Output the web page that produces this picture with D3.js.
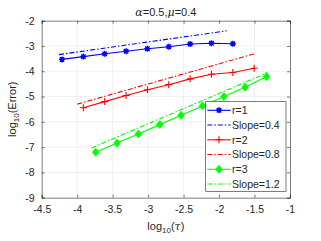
<!DOCTYPE html>
<html>
<head>
<meta charset="utf-8">
<script src="https://cdn.jsdelivr.net/npm/d3@7"></script>
<style>
  body { margin: 0; background: #fff; }
  text { font-family: "Liberation Sans", Arial, sans-serif; fill: #262626; }
</style>
</head>
<body>
<div id="chart"></div>
<script>
var width = 321, height = 241;
var margin = {left: 41.7, top: 20.7, right: 31, bottom: 43.3};

// data
var x1 = [-4.214, -3.913, -3.612, -3.311, -3.010, -2.709, -2.408, -2.107, -1.806];
var y1 = [-3.53, -3.42, -3.31, -3.21, -3.11, -3.03, -2.92, -2.89, -2.91];
var x2 = [-3.913, -3.612, -3.311, -3.010, -2.709, -2.408, -2.107, -1.806, -1.505];
var y2 = [-5.44, -5.20, -4.96, -4.73, -4.53, -4.30, -4.12, -4.05, -3.88];
var x3 = [-3.739, -3.438, -3.137, -2.836, -2.535, -2.234, -1.933, -1.632, -1.331];
var y3 = [-7.20, -6.84, -6.48, -6.11, -5.74, -5.37, -5.00, -4.63, -4.21];
var slopeX1 = [-4.256, -1.892], slopeY1 = [-3.34, -2.40];
var slopeX2 = [-3.998, -1.493], slopeY2 = [-5.30, -3.30];
var slopeX3 = [-3.795, -1.319], slopeY3 = [-7.03, -4.06];
var xTicks = [-4.5, -4, -3.5, -3, -2.5, -2, -1.5, -1];
var yTicks = [-9, -8, -7, -6, -5, -4, -3, -2];
var legendLabels = ["r=1", "Slope=0.4", "r=2", "Slope=0.8", "r=3", "Slope=1.2"];

var w = width - margin.left - margin.right,
    h = height - margin.top - margin.bottom;

var x = d3.scaleLinear().domain([-4.5, -1]).range([0, w]);
var y = d3.scaleLinear().domain([-9, -2]).range([h, 0]);

var svg = d3.select("#chart").append("svg")
    .attr("width", width)
    .attr("height", height);

var g = svg.append("g")
    .attr("transform", "translate(" + margin.left + "," + margin.top + ")");

g.append("rect").attr("width", w).attr("height", h).attr("fill", "#fff");

// grid
g.append("g").selectAll("line").data(xTicks.slice(1, -1)).enter().append("line")
    .attr("x1", function(d) { return x(d); }).attr("x2", function(d) { return x(d); })
    .attr("y1", 0).attr("y2", h)
    .attr("stroke", "#e6e6e6").attr("stroke-width", 0.6);
g.append("g").selectAll("line").data(yTicks.slice(1, -1)).enter().append("line")
    .attr("y1", function(d) { return y(d); }).attr("y2", function(d) { return y(d); })
    .attr("x1", 0).attr("x2", w)
    .attr("stroke", "#e6e6e6").attr("stroke-width", 0.6);

// axes
var xAxis = g.append("g").attr("transform", "translate(0," + h + ")")
    .call(d3.axisBottom(x).tickValues(xTicks).tickSize(-3).tickPadding(8)
      .tickFormat(function(d) { return String(d).replace("\u2212", "-"); }));
var yAxis = g.append("g")
    .call(d3.axisLeft(y).tickValues(yTicks).tickSize(-3).tickPadding(7)
      .tickFormat(function(d) { return String(d); }));
g.append("g").attr("transform", "translate(0,0)")
    .call(d3.axisTop(x).tickValues(xTicks).tickSize(-3).tickFormat(""));
g.append("g").attr("transform", "translate(" + w + ",0)")
    .call(d3.axisRight(y).tickValues(yTicks).tickSize(-3).tickFormat(""));
g.selectAll(".domain").attr("stroke", "#262626").attr("stroke-width", 0.6);
g.selectAll(".tick line").attr("stroke", "#262626").attr("stroke-width", 0.6);
g.selectAll(".tick text").attr("font-size", 10.5).attr("fill", "#262626")
    .style("font-family", "'Liberation Sans', Arial, sans-serif");

function zip(xs, ys) { return xs.map(function(v, i) { return [v, ys[i]]; }); }

var line = d3.line().x(function(d) { return x(d[0]); }).y(function(d) { return y(d[1]); });

var series = [
  {data: zip(x1, y1), slope: zip(slopeX1, slopeY1), color: "#0000ff", marker: "star"},
  {data: zip(x2, y2), slope: zip(slopeX2, slopeY2), color: "#ff0000", marker: "plus"},
  {data: zip(x3, y3), slope: zip(slopeX3, slopeY3), color: "#00ff00", marker: "diamond"}
];

function drawMarker(sel, kind, color) {
  if (kind === "star") {
    sel.append("path")
      .attr("d", "M-3,0L3,0M0,-3L0,3M-2.2,-2.2L2.2,2.2M-2.2,2.2L2.2,-2.2")
      .attr("stroke", color).attr("stroke-width", 1.4);
    sel.append("circle").attr("r", 1.8).attr("fill", color);
  } else if (kind === "plus") {
    sel.append("path").attr("d", "M-3.5,0L3.5,0M0,-3.5L0,3.5")
      .attr("stroke", color).attr("stroke-width", 1.1);
  } else {
    sel.append("path").attr("d", "M0,-4L3.3,0L0,4L-3.3,0Z")
      .attr("fill", color).attr("stroke", color).attr("stroke-width", 0.8);
  }
}

series.forEach(function(s) {
  g.append("path").datum(s.slope).attr("d", line)
    .attr("fill", "none").attr("stroke", s.color).attr("stroke-width", 1.1)
    .attr("stroke-dasharray", "5,2,1.5,2");
  g.append("path").datum(s.data).attr("d", line)
    .attr("fill", "none").attr("stroke", s.color).attr("stroke-width", 1.1);
  s.data.forEach(function(d) {
    var m = g.append("g").attr("transform", "translate(" + x(d[0]) + "," + y(d[1]) + ")");
    drawMarker(m, s.marker, s.color);
  });
});

// legend
var lx = 205.7, ly = 101.7, lw = 80.3, lh = 89.8;
var legend = svg.append("g");
legend.append("rect").attr("x", lx).attr("y", ly).attr("width", lw).attr("height", lh)
    .attr("fill", "#fff").attr("stroke", "#262626").attr("stroke-width", 0.6);
legendLabels.forEach(function(lab, i) {
  var s = series[Math.floor(i / 2)];
  var yy = 110.3 + i * 14.75;
  legend.append("line").attr("x1", 207.3).attr("x2", 230.7).attr("y1", yy).attr("y2", yy)
    .attr("stroke", s.color).attr("stroke-width", 1.1)
    .attr("stroke-dasharray", i % 2 ? "5,2,1.5,2" : null);
  if (i % 2 === 0) {
    var m = legend.append("g").attr("transform", "translate(219," + yy + ")");
    drawMarker(m, s.marker, s.color);
  }
  legend.append("text").attr("x", 232).attr("y", yy).attr("dy", "0.36em")
    .attr("font-size", 10.5).text(lab);
});

// title
var title = svg.append("text").attr("x", margin.left + w / 2).attr("y", 16)
    .attr("text-anchor", "middle").attr("font-size", 11);
title.append("tspan").attr("font-family", "'DejaVu Serif', serif").attr("font-style", "italic").text("\u03b1");
title.append("tspan").text("=0.5,");
title.append("tspan").attr("font-family", "'DejaVu Serif', serif").attr("font-style", "italic").text("\u03bc");
title.append("tspan").text("=0.4");

// x label
var xl = svg.append("text").attr("x", margin.left + w / 2).attr("y", 230)
    .attr("text-anchor", "middle").attr("font-size", 11);
xl.append("tspan").text("log");
xl.append("tspan").attr("font-size", 8).attr("dy", 3).text("10");
xl.append("tspan").attr("dy", -3).text("(");
xl.append("tspan").attr("font-family", "'DejaVu Serif', serif").attr("font-style", "italic").text("\u03c4");
xl.append("tspan").text(")");

// y label
var yl = svg.append("text").attr("transform", "translate(16," + (margin.top + h / 2) + ") rotate(-90)")
    .attr("text-anchor", "middle").attr("font-size", 11);
yl.append("tspan").text("log");
yl.append("tspan").attr("font-size", 8).attr("dy", 3).text("10");
yl.append("tspan").attr("dy", -3).text("(Error)");
</script>
</body>
</html>
